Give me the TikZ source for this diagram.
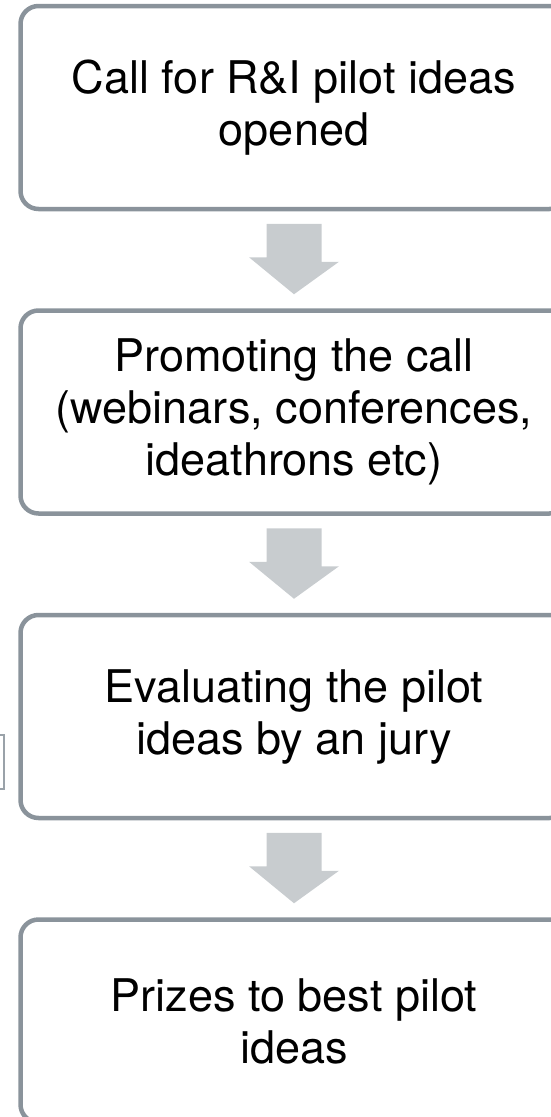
\documentclass[tikz,border=0pt]{standalone}
\usepackage{fontspec}
\setmainfont{TeX Gyre Heros}
\usepackage{tikz}
\usetikzlibrary{positioning,calc}
\definecolor{stepgray}{RGB}{138,147,155}
\definecolor{arrowgray}{RGB}{200,204,207}
\definecolor{sidegray}{RGB}{154,162,169}
\tikzstyle{stage} = [rectangle, rounded corners=18pt, minimum width=547pt, minimum height=203pt, text centered, align=center, draw=stepgray, line width=4.5pt, inner sep=0pt, font=\fontsize{45}{52}\selectfont]
\tikzstyle{blockarrow} = [fill=arrowgray, draw=none]
\tikzstyle{sidebox} = [rectangle, draw=sidegray, line width=2pt, minimum width=30pt, minimum height=54pt]

\begin{document}
\begin{tikzpicture}[node distance=304.5pt]
\useasboundingbox (0,0) rectangle (550pt,-1117pt);
% Steps of the call
\node (call_opened) [stage] at (294pt,-107.5pt) {Call for R\&I pilot ideas\\opened};
\node (promoting) [stage, below of=call_opened] {Promoting the call\\(webinars, conferences,\\ideathrons etc)};
\node (evaluating) [stage, below of=promoting] {Evaluating the pilot\\ideas by an jury};
\node (prizes) [stage, below of=evaluating] {Prizes to best pilot\\ideas};

% Arrows between steps
\foreach \from/\to in {call_opened/promoting, promoting/evaluating, evaluating/prizes}
  \fill[blockarrow] ($(\from.south)+(-27.5pt,-12.5pt)$) -- ++(55pt,0) -- ++(0,-38pt) -- ++(17.5pt,0) -- ($(\to.north)+(0,14pt)$) -- ++(-45pt,37pt) -- ++(17.5pt,0) -- cycle;

% Cut-off box at the left
\node (side_box) [sidebox] at (-11pt,-762pt) {};
\end{tikzpicture}
\end{document}
